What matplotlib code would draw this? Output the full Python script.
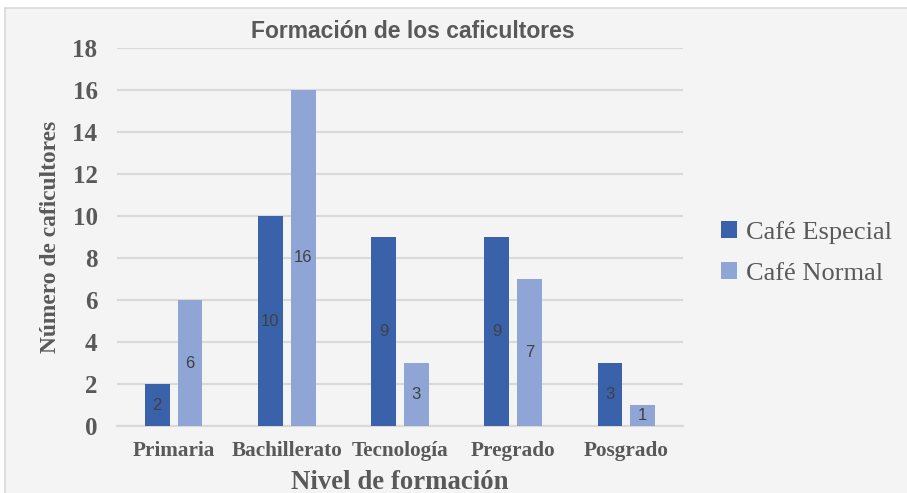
import matplotlib.pyplot as plt
import matplotlib.patches as mpatches
import numpy as np

# data
niveles = ["Primaria", "Bachillerato", "Tecnología", "Pregrado", "Posgrado"]
cafe_especial = [2, 10, 9, 9, 3]
cafe_normal = [6, 16, 3, 7, 1]
y_ticks = [0, 2, 4, 6, 8, 10, 12, 14, 16, 18]

DARK = "#3a62ab"
LIGHT = "#8fa5d5"
GREY_TXT = "#595959"
SERIF = "Liberation Serif"
SANS = "Liberation Sans"

fig = plt.figure(figsize=(9.07, 4.93), dpi=100, facecolor="white")

# chart area background (like the Excel chart frame)
W, H = 907.0, 493.0
bg = mpatches.Rectangle((5 / W, -0.01), 1.02, 1 - 8 / H + 0.01,
                        transform=fig.transFigure, facecolor="#f4f4f4",
                        edgecolor="#d9d9d9", linewidth=1.2, zorder=-10)
fig.patches.append(bg)

ax = fig.add_axes([117 / W, 1 - 426 / H, (683 - 117) / W, (426 - 48) / H])
ax.set_facecolor("none")

x = np.arange(len(niveles))
w = 0.22
off = 0.145
b1 = ax.bar(x - off, cafe_especial, w, color=DARK, label="Café Especial", zorder=3)
b2 = ax.bar(x + off, cafe_normal, w, color=LIGHT, label="Café Normal", zorder=3)

for bars, vals in ((b1, cafe_especial), (b2, cafe_normal)):
    for rect, v in zip(bars, vals):
        ax.text(rect.get_x() + rect.get_width() / 2, v / 2, str(v),
                ha="center", va="center", fontsize=12, family=SANS,
                color="#404040", zorder=4)

ax.set_xlim(-0.5, len(niveles) - 0.5)
ax.set_ylim(0, 18)
ax.set_yticks(y_ticks)
ax.set_xticks(x)
ax.set_xticklabels(niveles)
ax.yaxis.grid(True, color="#d9d9d9", linewidth=1.5, zorder=0)
ax.set_axisbelow(True)
for s in ["top", "right", "left"]:
    ax.spines[s].set_visible(False)
ax.spines["bottom"].set_color("#d9d9d9")
ax.spines["bottom"].set_linewidth(1.5)
ax.tick_params(axis="both", length=0)
ax.tick_params(axis="y", pad=14, labelsize=18, labelcolor=GREY_TXT)
ax.tick_params(axis="x", pad=11, labelsize=15.3, labelcolor=GREY_TXT)
for lab in ax.get_xticklabels() + ax.get_yticklabels():
    lab.set_family(SERIF)
    lab.set_fontweight("bold")

ax.set_xlabel("Nivel de formación", family=SERIF, fontweight="bold",
              fontsize=19.3, color=GREY_TXT, labelpad=6)
ax.set_ylabel("Número de caficultores", family=SERIF, fontweight="bold",
              fontsize=16.9, color=GREY_TXT, labelpad=8)

fig.text(413 / W, 1 - 32 / H, "Formación de los caficultores", ha="center",
         va="center", fontsize=16.5, fontweight="bold", family=SANS,
         color=GREY_TXT)

leg = ax.legend(loc="center left", bbox_to_anchor=(708 / W, 1 - 253 / H),
                bbox_transform=fig.transFigure, frameon=False, borderpad=0,
                prop={"family": SERIF, "size": 19}, handlelength=0.6,
                handleheight=0.6, handletextpad=0.35, labelspacing=0.7,
                labelcolor=GREY_TXT)

fig.savefig("out.png", dpi=100, facecolor="white")
